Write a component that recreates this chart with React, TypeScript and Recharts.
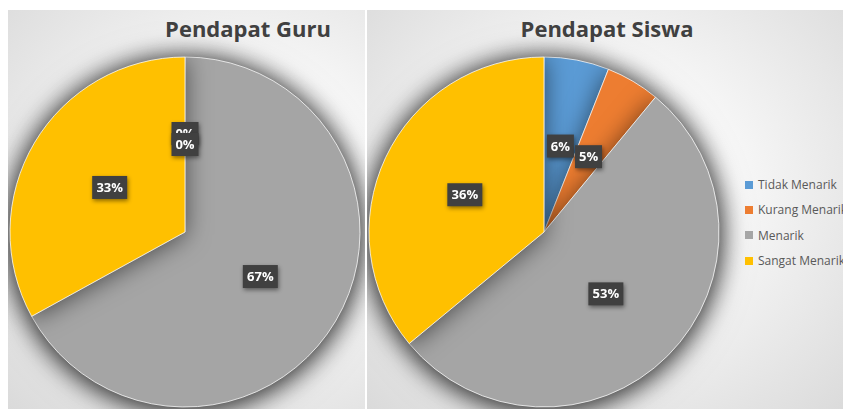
import React from "react";
import { PieChart, Pie, Cell, Legend } from "recharts";

const CATEGORIES = ["Tidak Menarik", "Kurang Menarik", "Menarik", "Sangat Menarik"];
const GURU_VALUES = [0, 0, 67, 33];
const SISWA_VALUES = [6, 5, 53, 36];
const COLORS = ["#5B9BD5", "#ED7D31", "#A5A5A5", "#FFC000"];

const PANEL_W = 484;
const PANEL_H = 399;
const RAD = Math.PI / 180;

const FONT = "'Open Sans', 'Liberation Sans', sans-serif";

const panelBg =
  "radial-gradient(ellipse at 50% 45%, #ffffff 0%, #f6f6f6 40%, #dadada 100%)";

function makeRows(values: number[]) {
  return CATEGORIES.map((name, i) => ({ name, value: values[i] }));
}

// kotak label gelap di tengah irisan
function renderLabel(props: any) {
  const { cx, cy, midAngle, outerRadius, percent, value, index } = props;
  const r = outerRadius * 0.5;
  const x = cx + r * Math.cos(-midAngle * RAD);
  let y = cy + r * Math.sin(-midAngle * RAD);
  // label 0% yang bertumpuk digeser sedikit
  if (value === 0 && index === 0) y -= 11;
  const text = `${Math.round(percent * 100)}%`;
  const w = text.length * 8 + 11;
  const h = 23;
  return (
    <g style={{ filter: "drop-shadow(1px 2px 2px rgba(0,0,0,0.45))" }}>
      <rect x={x - w / 2} y={y - h / 2} width={w} height={h} fill="#404040" />
      <text
        x={x}
        y={y + 1}
        textAnchor="middle"
        dominantBaseline="middle"
        fill="#ffffff"
        fontFamily={FONT}
        fontWeight={700}
        fontSize={13}
      >
        {text}
      </text>
    </g>
  );
}

function LegendBox() {
  return (
    <div style={{ fontFamily: FONT, fontSize: 12, color: "#595959" }}>
      {CATEGORIES.map((c, i) => (
        <div key={c} style={{ display: "flex", alignItems: "center", height: 25.3, whiteSpace: "nowrap" }}>
          <span style={{ width: 8, height: 8, background: COLORS[i], marginRight: 5, display: "inline-block" }} />
          {c}
        </div>
      ))}
    </div>
  );
}

function PiePanel({ title, values }: { title: string; values: number[] }) {
  return (
    <div style={{ position: "relative", width: PANEL_W, height: PANEL_H, background: panelBg }}>
      <div
        style={{
          position: "absolute",
          top: 3,
          left: 0,
          width: 480,
          textAlign: "center",
          fontFamily: FONT,
          fontWeight: 700,
          fontSize: 22,
          color: "#404040",
          zIndex: 2,
        }}
      >
        {title}
      </div>
      <PieChart width={PANEL_W} height={PANEL_H} margin={{ top: 0, right: 0, bottom: 0, left: 0 }}>
        <Pie
          className="shadowed-pie"
          data={makeRows(values)}
          dataKey="value"
          nameKey="name"
          cx={177}
          cy={222}
          outerRadius={175}
          startAngle={90}
          endAngle={-270}
          stroke="#ffffff"
          strokeWidth={0.75}
          label={renderLabel}
          labelLine={false}
          isAnimationActive={false}
        >
          {values.map((_, i) => (
            <Cell key={i} fill={COLORS[i]} />
          ))}
        </Pie>
        <Legend
          content={<LegendBox />}
          wrapperStyle={{ position: "absolute", left: 378, top: 162, width: 110 }}
        />
      </PieChart>
    </div>
  );
}

export default function App() {
  return (
    <div style={{ paddingTop: 2 }}>
      <style>{`.shadowed-pie, .recharts-pie { filter: drop-shadow(0 2px 12px rgba(0,0,0,0.55)); }`}</style>
      <div style={{ display: "flex", gap: 2, width: 843, height: PANEL_H }}>
        <div style={{ width: 357, height: PANEL_H, overflow: "hidden", flexShrink: 0 }}>
          <PiePanel title="Pendapat Guru" values={GURU_VALUES} />
        </div>
        <div style={{ width: 484, height: PANEL_H, overflow: "hidden", flexShrink: 0 }}>
          <PiePanel title="Pendapat Siswa" values={SISWA_VALUES} />
        </div>
      </div>
    </div>
  );
}
